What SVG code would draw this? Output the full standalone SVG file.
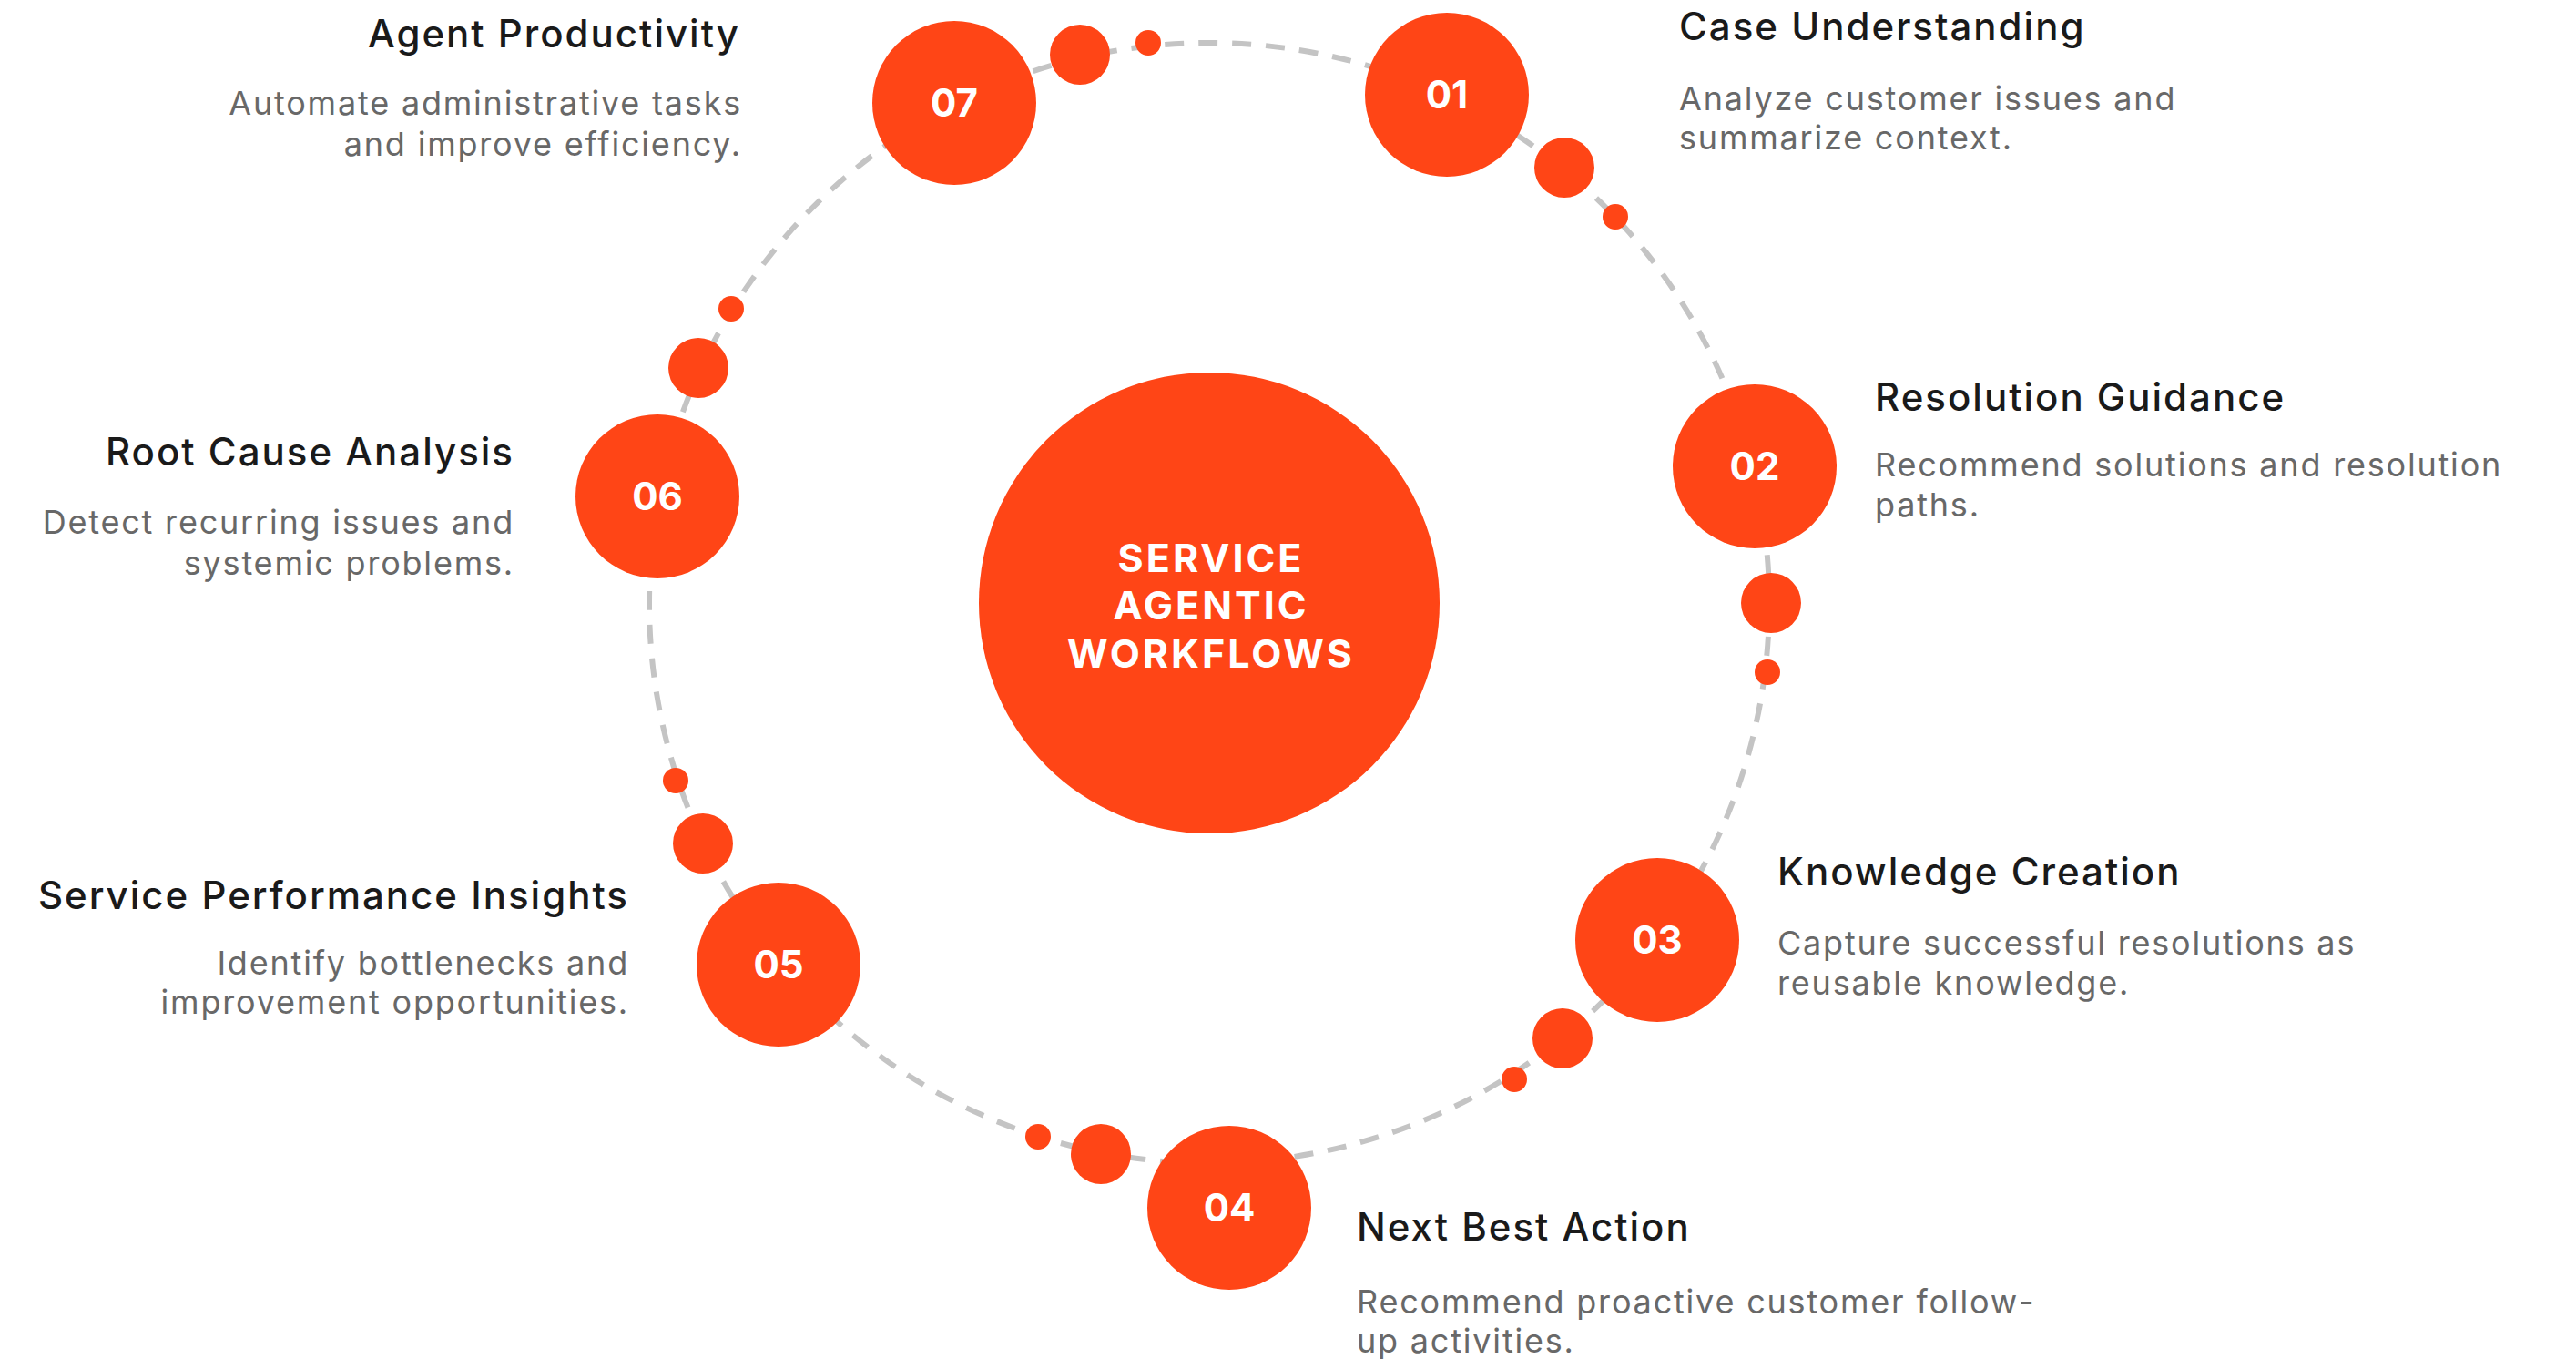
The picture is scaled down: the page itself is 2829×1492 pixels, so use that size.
<svg xmlns="http://www.w3.org/2000/svg" width="2829" height="1492" viewBox="0 0 2829 1492">
  <style>
    .node-c { fill: #ff4516; }
    .dot { fill: #ff4516; }
    .num { font-family: Inter, "Open Sans", sans-serif; font-weight: 700; font-size: 42px; fill: #ffffff; text-anchor: middle; }
    .title { font-family: Inter, "Open Sans", sans-serif; font-weight: 500; font-size: 42px; fill: #1a1a1a; letter-spacing: 2px; }
    .desc { font-family: Inter, "Open Sans", sans-serif; font-weight: 400; font-size: 36px; fill: #686868; letter-spacing: 1.8px; }
    .end { text-anchor: end; }
    .hub-t { font-family: Inter, "Open Sans", sans-serif; font-weight: 700; font-size: 43px; fill: #ffffff; text-anchor: middle; letter-spacing: 3px; }
    .ring { fill: none; stroke: #c4c4c4; stroke-width: 6; stroke-dasharray: 21 16; }
  </style>

  <rect width="2829" height="1492" fill="#ffffff"/>

  <!-- dashed orbit linking the steps -->
  <g id="connectors">
    <circle class="ring" cx="1328" cy="662" r="615"/>
  </g>

  <!-- trailing dots along the orbit -->
  <g id="dots">
    <circle class="dot" cx="1186" cy="60" r="33"/>
    <circle class="dot" cx="1261" cy="47" r="14"/>
    <circle class="dot" cx="1718" cy="184" r="33"/>
    <circle class="dot" cx="1774" cy="238" r="14"/>
    <circle class="dot" cx="1945" cy="662" r="33"/>
    <circle class="dot" cx="1941" cy="738" r="14"/>
    <circle class="dot" cx="1716" cy="1140" r="33"/>
    <circle class="dot" cx="1663" cy="1185" r="14"/>
    <circle class="dot" cx="1209" cy="1267" r="33"/>
    <circle class="dot" cx="1140" cy="1248" r="14"/>
    <circle class="dot" cx="772" cy="926" r="33"/>
    <circle class="dot" cx="742" cy="857" r="14"/>
    <circle class="dot" cx="767" cy="404" r="33"/>
    <circle class="dot" cx="803" cy="339" r="14"/>
  </g>

  <!-- central hub -->
  <g id="hub">
    <circle class="node-c" cx="1328" cy="662" r="253"/>
    <text class="hub-t" x="1330" y="628">SERVICE</text>
    <text class="hub-t" x="1330" y="680">AGENTIC</text>
    <text class="hub-t" x="1330" y="733">WORKFLOWS</text>
  </g>

  <g id="step-01">
    <circle class="node-c" cx="1589" cy="104" r="90"/>
    <text class="num" x="1589" y="119">01</text>
    <text class="title" x="1844" y="44">Case Understanding</text>
    <text class="desc" x="1844" y="121">Analyze customer issues and</text>
    <text class="desc" x="1844" y="164">summarize context.</text>
  </g>

  <g id="step-02">
    <circle class="node-c" cx="1927" cy="512" r="90"/>
    <text class="num" x="1927" y="527">02</text>
    <text class="title" x="2059" y="451">Resolution Guidance</text>
    <text class="desc" x="2059" y="523">Recommend solutions and resolution</text>
    <text class="desc" x="2059" y="567">paths.</text>
  </g>

  <g id="step-03">
    <circle class="node-c" cx="1820" cy="1032" r="90"/>
    <text class="num" x="1820" y="1047">03</text>
    <text class="title" x="1952" y="972">Knowledge Creation</text>
    <text class="desc" x="1952" y="1048">Capture successful resolutions as</text>
    <text class="desc" x="1952" y="1092">reusable knowledge.</text>
  </g>

  <g id="step-04">
    <circle class="node-c" cx="1350" cy="1326" r="90"/>
    <text class="num" x="1350" y="1341">04</text>
    <text class="title" x="1490" y="1362">Next Best Action</text>
    <text class="desc" x="1490" y="1442">Recommend proactive customer follow-</text>
    <text class="desc" x="1490" y="1485">up activities.</text>
  </g>

  <g id="step-05">
    <circle class="node-c" cx="855" cy="1059" r="90"/>
    <text class="num" x="855" y="1074">05</text>
    <text class="title end" x="691" y="998">Service Performance Insights</text>
    <text class="desc end" x="691" y="1070">Identify bottlenecks and</text>
    <text class="desc end" x="691" y="1113">improvement opportunities.</text>
  </g>

  <g id="step-06">
    <circle class="node-c" cx="722" cy="545" r="90"/>
    <text class="num" x="722" y="560">06</text>
    <text class="title end" x="565" y="511">Root Cause Analysis</text>
    <text class="desc end" x="565" y="586">Detect recurring issues and</text>
    <text class="desc end" x="565" y="631">systemic problems.</text>
  </g>

  <g id="step-07">
    <circle class="node-c" cx="1048" cy="113" r="90"/>
    <text class="num" x="1048" y="128">07</text>
    <text class="title end" x="813" y="52">Agent Productivity</text>
    <text class="desc end" x="815" y="126">Automate administrative tasks</text>
    <text class="desc end" x="815" y="171">and improve efficiency.</text>
  </g>
</svg>
